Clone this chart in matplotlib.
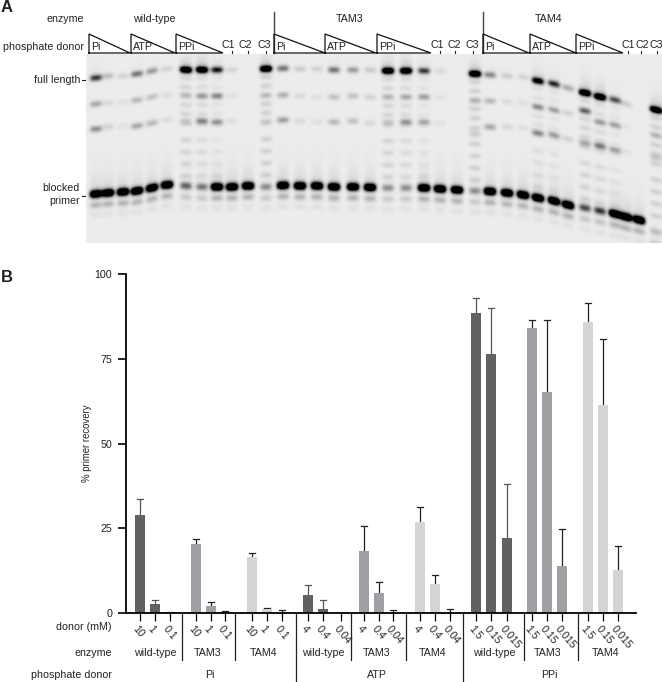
import numpy as np
import matplotlib
matplotlib.use("Agg")
import matplotlib.pyplot as plt
from matplotlib.transforms import ScaledTranslation

plt.rcParams['font.family'] = ['Liberation Sans', 'DejaVu Sans']

W, H = 662, 682

# ---- bar chart data ----
donor_labels = ['10', '1', '0.1', '10', '1', '0.1', '10', '1', '0.1',
                '4', '0.4', '0.04', '4', '0.4', '0.04', '4', '0.4', '0.04',
                '1.5', '0.15', '0.015', '1.5', '0.15', '0.015', '1.5', '0.15', '0.015']
recovery = [29.0, 2.8, 0.2, 20.5, 2.0, 0.2, 16.5, 1.2, 0.0,
            5.2, 1.3, 0.0, 18.2, 5.8, 0.0, 26.8, 8.6, 0.0,
            88.5, 76.5, 22.2, 84.0, 65.2, 14.0, 85.7, 61.5, 12.7]
recovery_top = [33.7, 3.8, 0.4, 21.8, 3.2, 0.6, 17.6, 1.5, 1.0,
                8.4, 3.7, 0.0, 25.6, 9.0, 1.0, 31.2, 11.2, 1.1,
                92.8, 90.0, 38.0, 86.5, 86.5, 24.8, 91.3, 80.7, 19.8]
enzymes = ['wild-type', 'TAM3', 'TAM4'] * 3
donors = ['Pi', 'ATP', 'PPi']

# ---- gel data, one entry per lane (12 lanes for each enzyme) ----
primer_y = [194, 193, 192, 191, 188, 185, 186, 187, 187, 187, 186, 187,
            185.5, 186, 186, 187, 187, 187.5, 188, 188, 188, 189, 190, 191,
            191.5, 193, 195, 198, 201, 205, 208, 211, 214, 217, 220, 232]
primer_i = [1, 1, 1, 1, 1, 1, .3, .25, 1, 1, 1, .2,
            1, 1, 1, 1, 1, 1, .2, .2, 1, 1, 1, .2,
            1, 1, 1, 1, 1, 1, .35, .4, 1, 1, 1, .1]
full_y = [78, 76, 76, 74, 71, 69, 70, 70, 70, 70, 70, 69,
          68.5, 69, 69, 70, 70, 70, 71, 71, 71, 71, 71, 74,
          75, 76, 77, 81, 84, 88, 93, 97, 100, 104, 104, 110]
full_i = [.55, .2, .12, .4, .3, .12, 1, 1, .65, .12, 0, 1,
          .4, .15, .12, .4, .3, .15, 1, 1, .55, .1, 0, 1,
          .35, .15, .12, .8, .6, .25, 1, 1, .5, .15, 0, 1]
mid1_y = [104, 103, 102, 100, 97, 95, 95, 96, 96, 96, 96, 96,
          95, 96, 97, 97, 96, 97, 97, 97, 97, 98, 98, 101,
          101, 102, 103, 107, 110, 113, 111, 122, 125, 127, 127, 135]
mid1_i = [.4, .12, .08, .3, .25, .1, .2, .4, .55, .08, 0, .15,
          .35, .1, .08, .25, .25, .15, .2, .3, .4, .07, 0, .2,
          .3, .1, .08, .5, .4, .15, .7, .4, .4, .05, 0, .2]
mid2_y = [129, 127, 126, 126, 123, 120, 121, 121, 122, 121, 121, 121,
          120, 121, 122, 122, 121, 123, 122, 122, 122, 123, 123, 134,
          127, 127, 128, 133, 135, 139, 143, 146, 150, 152, 152, 158]
mid2_i = [.55, .15, .07, .4, .3, .1, .2, .6, .5, .08, 0, .1,
          .45, .1, .08, .3, .25, .12, .2, .5, .4, .07, 0, .2,
          .4, .12, .08, .55, .45, .15, .4, .7, .45, .07, 0, .2]
ladder_i = [0, 0, 0, 0, 0, 0, .12, .09, .05, 0, 0, .14,
            0, 0, 0, 0, 0, 0, .12, .09, .05, 0, 0, .14,
            0, 0, 0, .07, .05, 0, .12, .09, .05, 0, 0, .14]
ladder_steps = [8, 17, 26, 35, 44, 54, 70, 82, 94, 106]

# ---- layout, in reference pixels ----
lane_x = [96, 108, 123, 137, 152, 167, 186, 202, 217, 232, 248, 266,
          283, 300, 317, 334, 353, 370, 388, 406, 424, 440, 457, 475,
          490, 507, 523, 538, 554, 568, 585, 600, 615, 626, 639, 656]
bar_x = [140, 155, 170, 196, 211, 225, 252, 267, 282,
         308, 323, 341, 364, 379, 393, 420, 435, 450,
         476, 491, 507, 532, 547, 562, 588, 603, 618]
bar_colors = ['#616161'] * 3 + ['#a0a0a4'] * 3 + ['#d4d4d4'] * 3
err_colors = ['#555555'] * 3 + ['#222222'] * 3 + ['#222222'] * 3
enzyme_x = [155, 208, 264, 323, 377, 433, 494, 548, 606]
donor_x = [210, 377, 549]
enzyme_seps = [182, 235, 351, 406, 524, 578]
donor_seps = [296, 463]
triangles = [(89, 130, 'Pi'), (131, 175, 'ATP'), (176, 223, 'PPi'),
             (274, 325, 'Pi'), (325, 376, 'ATP'), (377, 431, 'PPi'),
             (483, 529, 'Pi'), (530, 576, 'ATP'), (576, 623, 'PPi')]
controls = [(228, 232, 'C1'), (245, 248, 'C2'), (264, 266, 'C3'),
            (437, 440, 'C1'), (454, 455, 'C2'), (472, 473, 'C3'),
            (628, 628, 'C1'), (642, 641, 'C2'), (656, 657, 'C3')]


def px_axes(x0, y0, x1, y1):
    return fig.add_axes([x0 / W, 1 - y1 / H, (x1 - x0) / W, (y1 - y0) / H])


def band(img, xx, yy, x0, y0, amp, slope, sx=5.8, sy=1.9):
    dx = xx - x0
    yc = y0 + slope * dx
    img += amp * np.exp(-(dx / sx) ** 4) * np.exp(-0.5 * ((yy - yc) / sy) ** 2)


def blur(img, sigma):
    t = np.arange(-6, 7)
    k = np.exp(-0.5 * (t / sigma) ** 2)
    k /= k.sum()
    pad = np.pad(img, 6, mode='edge')
    pad = np.apply_along_axis(lambda r: np.convolve(r, k, mode='same'), 0, pad)
    pad = np.apply_along_axis(lambda r: np.convolve(r, k, mode='same'), 1, pad)
    return pad[6:-6, 6:-6]


def make_gel():
    xs = np.arange(86, 662) + 0.5
    ys = np.arange(54, 243) + 0.5
    xx, yy = np.meshgrid(xs, ys)
    img = np.zeros_like(xx)
    slopes = np.gradient(np.array(primer_y, dtype=float), lane_x)
    slopes = np.clip(slopes, -0.25, 0.25)
    for i, x0 in enumerate(lane_x):
        s = slopes[i]
        band(img, xx, yy, x0, primer_y[i], 2.2 * primer_i[i], s, sy=2.3)
        band(img, xx, yy, x0, primer_y[i] + 11, 0.13 + 0.14 * primer_i[i], s, sy=2.2)
        band(img, xx, yy, x0, primer_y[i] + 21, 0.05, s, sy=2.5)
        # smear above the primer band
        smear = np.exp(-(np.maximum(primer_y[i] - yy, 0)) / 12.0) * (yy < primer_y[i])
        img += 0.16 * primer_i[i] * smear * np.exp(-((xx - x0) / 6.0) ** 4)
        band(img, xx, yy, x0, full_y[i], 1.9 * full_i[i] ** 1.3, s, sy=1.9)
        band(img, xx, yy, x0, mid1_y[i], 0.85 * mid1_i[i], s, sy=1.9)
        band(img, xx, yy, x0, mid2_y[i], 0.85 * mid2_i[i], s, sy=1.9)
        smear = np.exp(-(np.maximum(full_y[i] - yy, 0)) / 7.0) * (yy < full_y[i])
        img += 0.3 * full_i[i] ** 2 * smear * np.exp(-((xx - x0) / 6.0) ** 4)
        if ladder_i[i] > 0:
            for step in ladder_steps:
                band(img, xx, yy, x0, full_y[i] + step, ladder_i[i], s, sy=1.7)
    return 0.925 * (1 - np.clip(blur(img, 1.2), 0, 1))


fig = plt.figure(figsize=(W / 100, H / 100), dpi=100)

# gel picture
gel_ax = px_axes(86, 54, 662, 243)
gel_ax.imshow(make_gel(), cmap='gray', vmin=0, vmax=1, aspect='auto',
              interpolation='bilinear')
gel_ax.axis('off')

# bar chart
ax = px_axes(126, 274, 636, 613)
ax.bar(bar_x, recovery, width=10, color=bar_colors * 3, linewidth=0, zorder=2)
for x, v, top, c in zip(bar_x, recovery, recovery_top, err_colors * 3):
    ax.plot([x, x], [v, top], color=c, lw=0.9, zorder=1, solid_capstyle='butt')
    ax.plot([x - 3, x + 3], [top, top], color=c, lw=0.9, zorder=1)
ax.set_xlim(126, 636)
ax.set_ylim(0, 100)
ax.spines[['top', 'right']].set_visible(False)
ax.spines['left'].set_linewidth(1.3)
ax.spines['bottom'].set_linewidth(1.3)
ax.set_yticks([0, 25, 50, 75, 100])
ax.tick_params(axis='y', labelsize=7.7, length=6, width=1.2, pad=4, labelcolor='#222222')
ax.set_xticks(bar_x)
ax.set_xticklabels(donor_labels, rotation=-50, rotation_mode='anchor',
                   ha='left', va='center', fontsize=7.7, color='#222222')
ax.tick_params(axis='x', length=6, width=0.9, pad=4)
shift = ScaledTranslation(-5 / 100, 0, fig.dpi_scale_trans)
for lbl in ax.get_xticklabels():
    lbl.set_transform(lbl.get_transform() + shift)
ax.set_ylabel('% primer recovery', fontsize=6.9, color='#222222')
ax.yaxis.set_label_coords((92 - 126) / (636 - 126), 0.5)

# everything else is placed in reference pixels
over = fig.add_axes([0, 0, 1, 1], zorder=5)
over.set_xlim(0, W)
over.set_ylim(H, 0)
over.axis('off')
over.patch.set_alpha(0)


def label(x, y, s, ha='center', size=7.7, weight='normal'):
    over.text(x, y, s, ha=ha, va='center', fontsize=size, fontweight=weight, color='#222222')


label(1, 7, 'A', ha='left', size=12, weight='bold')
label(1, 278, 'B', ha='left', size=12, weight='bold')

label(84, 19, 'enzyme', ha='right')
label(84, 47, 'phosphate donor', ha='right')
label(154, 19, 'wild-type')
label(350, 19, 'TAM3')
label(549, 19, 'TAM4')
label(80, 80, 'full length', ha='right')
label(80, 188, 'blocked', ha='right')
label(80, 201, 'primer', ha='right')
for y in [80, 196]:
    over.plot([82, 85], [y, y], color='#222222', lw=0.8)

for sep in [274, 483]:
    over.plot([sep, sep], [12, 53], color='#444444', lw=1.0)

for x0, x1, name in triangles:
    over.plot([x0, x0, x1, x0], [53, 34, 53, 53], color='#111111', lw=0.9,
              solid_joinstyle='miter')
    label(x0 + 2, 47, name, ha='left')
for tx, mx, name in controls:
    label(tx, 45, name)
    over.plot([mx, mx], [50.5, 53], color='#222222', lw=0.8)

label(112, 627, 'donor (mM)', ha='right')
label(112, 653, 'enzyme', ha='right')
label(112, 675, 'phosphate donor', ha='right')
for x, name in zip(enzyme_x, enzymes):
    label(x, 653, name)
for x, name in zip(donor_x, donors):
    label(x, 675, name)
for x in enzyme_seps:
    over.plot([x, x], [613, 660], color='#222222', lw=0.9)
for x in donor_seps:
    over.plot([x, x], [613, 682], color='#222222', lw=0.9)

fig.savefig('out.png', dpi=100)
